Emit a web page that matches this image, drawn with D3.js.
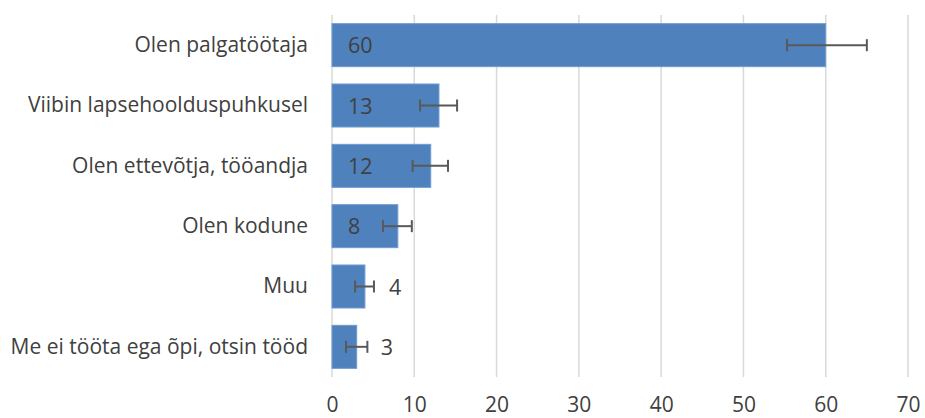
<!DOCTYPE html>
<html>
<head>
<meta charset="utf-8">
<script src="https://cdn.jsdelivr.net/npm/d3@7"></script>
<style>
  html, body { margin: 0; padding: 0; background: #fff; }
  svg { display: block; }
  text { font-family: "Open Sans", "Noto Sans", sans-serif; fill: #404040; }
</style>
</head>
<body>
<svg id="chart" width="925" height="418"></svg>
<script>
// Survey answers: current occupation, with share and margin of error
const categories = [
  "Olen palgatöötaja",
  "Viibin lapsehoolduspuhkusel",
  "Olen ettevõtja, tööandja",
  "Olen kodune",
  "Muu",
  "Me ei tööta ega õpi, otsin tööd"
];
const values = [60, 13, 12, 8, 4, 3];
const errLow = [4.7, 2.3, 2.2, 1.8, 1.2, 1.3];
const errHigh = [5.0, 2.2, 2.1, 1.7, 1.1, 1.3];
const ticks = [0, 10, 20, 30, 40, 50, 60, 70];

const svg = d3.select("#chart");
const plot = { left: 332, right: 908, top: 15, bottom: 377 };

const x = d3.scaleLinear().domain([0, 70]).range([plot.left, plot.right]);
const y = d3.scaleBand().domain(categories).range([plot.top, plot.bottom])
  .paddingInner(0.287).paddingOuter(0.1435);

// vertical gridlines
svg.append("g").selectAll("line").data(ticks).join("line")
  .attr("x1", d => x(d)).attr("x2", d => x(d))
  .attr("y1", plot.top).attr("y2", plot.bottom)
  .attr("stroke", "#d9d9d9").attr("stroke-width", 1.5);

// x axis tick labels
const xAxis = d3.axisBottom(x).tickValues(ticks).tickSize(0).tickPadding(0);
const gx = svg.append("g").attr("transform", `translate(0, 397)`).call(xAxis);
gx.select(".domain").remove();
gx.selectAll("text")
  .attr("dy", "0.71em")
  .style("font-size", "21px")
  .style("font-family", "'Open Sans', sans-serif")
  .attr("fill", "#595959");

// category labels
const yAxis = d3.axisLeft(y).tickSize(0).tickPadding(0);
const gy = svg.append("g").attr("transform", `translate(308, 0)`).call(yAxis);
gy.select(".domain").remove();
gy.selectAll("text")
  .style("font-size", "21px")
  .style("font-family", "'Open Sans', sans-serif")
  .attr("fill", "#595959");

// bars
svg.append("g").selectAll("rect").data(values).join("rect")
  .attr("x", x(0))
  .attr("y", (d, i) => y(categories[i]))
  .attr("width", d => x(d) - x(0))
  .attr("height", y.bandwidth())
  .attr("fill", "#4f81bd")
  .attr("stroke", "#6f9bd1")
  .attr("stroke-width", 1);

// error bars
const eb = svg.append("g").attr("stroke", "#595959").attr("stroke-width", 2);
values.forEach((v, i) => {
  const cy = y(categories[i]) + y.bandwidth() / 2;
  const x1 = x(v - errLow[i]), x2 = x(v + errHigh[i]);
  eb.append("line").attr("x1", x1).attr("x2", x2).attr("y1", cy).attr("y2", cy);
  eb.append("line").attr("x1", x1).attr("x2", x1).attr("y1", cy - 6).attr("y2", cy + 6);
  eb.append("line").attr("x1", x2).attr("x2", x2).attr("y1", cy - 6).attr("y2", cy + 6);
});

// value labels: at the base when the bar is wide enough, otherwise past the error bar
svg.append("g").selectAll("text").data(values).join("text")
  .attr("x", d => d >= 8 ? x(0) + 16 : x(d) + 24)
  .attr("y", (d, i) => y(categories[i]) + y.bandwidth() / 2)
  .attr("dy", "0.38em")
  .style("font-size", "21.5px")
  .attr("fill", "#404040")
  .text(d => d);
</script>
</body>
</html>
